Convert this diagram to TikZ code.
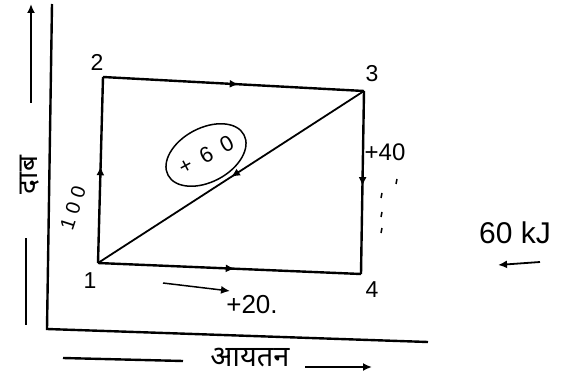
\documentclass[tikz,border=0pt]{standalone}
\usepackage{fontspec}
\setmainfont{Liberation Sans}
\newfontfamily\devfont[Script=Devanagari]{Noto Sans}
\usetikzlibrary{arrows.meta, decorations.markings, shapes.geometric}
\tikzset{
  tip/.tip={Latex[length=9pt, width=8pt]},
  midarrow/.style={postaction={decorate}, decoration={markings, mark=at position #1 with {\arrow{tip}}}},
  midarrow/.default=0.52,
  corner/.style={font=\fontsize{23}{23}\selectfont},
  hand/.style={font=\fontsize{24}{24}\selectfont},
}
\begin{document}
\begin{tikzpicture}[x=1pt, y=-1pt, >=tip, line width=2.4pt]
    \useasboundingbox (0,0) rectangle (578,377);
    \coordinate (p1) at (98,263);
    \coordinate (p2) at (103,77);
    \coordinate (p3) at (364,91);
    \coordinate (p4) at (361,274);
    \coordinate (ytop) at (52,4);
    \coordinate (orig) at (47,329);
    \coordinate (xend) at (428,342);
    \draw (ytop) -- (orig) -- (xend);
    \draw[midarrow] (p1) -- (p2);
    \draw[midarrow] (p2) -- (p3);
    \draw[midarrow] (p3) -- (p4);
    \draw[midarrow] (p1) -- (p4);
    \draw[midarrow=0.5, line width=1.8pt] (p3) -- (p1);
    \node[corner] (n1) at (90,281) {1};
    \node[corner] (n2) at (97,62) {2};
    \node[corner] (n3) at (372,74) {3};
    \node[corner] (n4) at (372,290) {4};
    \node[font=\devfont\fontsize{28}{28}\selectfont, rotate=90] (dab) at (30,175) {दाब};
    \coordinate (pa) at (31,103);
    \coordinate (pb) at (31,4);
    \draw[->] (pa) -- (pb);
    \coordinate (pc) at (26,238);
    \coordinate (pd) at (26,325);
    \draw (pc) -- (pd);
    \node[font=\devfont\fontsize{29}{29}\selectfont] (ayatan) at (250,358) {आयतन};
    \coordinate (va) at (63,358);
    \coordinate (vb) at (183,361);
    \draw (va) -- (vb);
    \coordinate (vc) at (305,367);
    \coordinate (vd) at (372,367);
    \draw[->] (vc) -- (vd);
    \node[hand, font=\fontsize{22}{22}\selectfont, draw, ellipse, rotate=28, line width=1.5pt, minimum width=86, minimum height=54, inner sep=0pt] (w13) at (206,155) {+\enspace6\enspace0};
    \node[hand, font=\fontsize{20}{20}\selectfont, rotate=72] (w12) at (73,208) {1\;0\;0};
    \node[hand] (w34) at (385,152) {+40};
    \node[hand, font=\fontsize{26}{26}\selectfont] (w14) at (252,305) {+20.};
    \coordinate (ta) at (163,283);
    \coordinate (tb) at (230,291);
    \draw[->, line width=1.5pt] (ta) -- (tb);
    \foreach \y in {193,212,228} \draw[line width=1.5pt] (382,\y) -- (381,\y+5);
    \draw[line width=1.5pt] (397,179) -- (396,184);
    \node[font=\fontsize{30}{30}\selectfont] (net) at (515,233) {60 kJ};
    \coordinate (na) at (540,262);
    \coordinate (nb) at (498,265);
    \draw[->, line width=1.8pt] (na) -- (nb);
\end{tikzpicture}
\end{document}
